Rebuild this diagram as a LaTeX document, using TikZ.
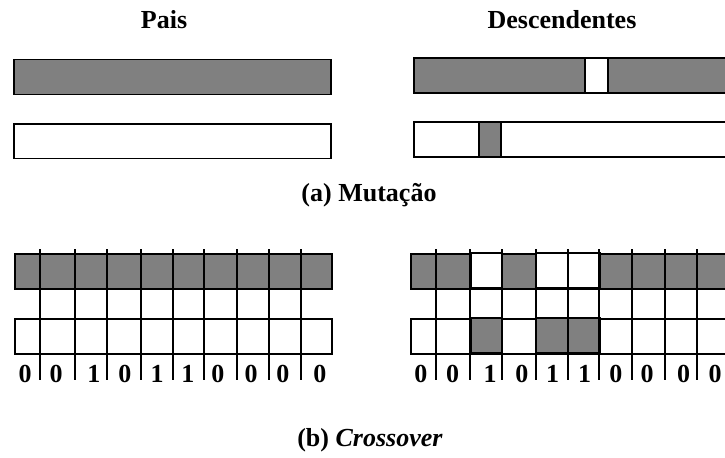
\documentclass[tikz,border=0pt]{standalone}
\usepackage{fontspec}
\setmainfont{Liberation Serif}
\begin{document}
\begin{tikzpicture}[x=0.5pt, y=-0.5pt, line width=0.9pt]

\tikzset{gene/.style = {draw, fill=gray}}
\tikzset{blank/.style = {draw, fill=white}}
\tikzset{title/.style = {font=\fontsize{13}{15}\selectfont\bfseries, anchor=base}}
\tikzset{bit/.style = {font=\fontsize{13}{15}\selectfont\bfseries, anchor=base, inner sep=0pt}}
\useasboundingbox (0,0) rectangle (725,457);
\clip (0,0) rectangle (725,457);
% headings
\node[title] (pais) at (164,28.5) {Pais};
\node[title] (desc) at (562,28) {Descendentes};
% (a) mutation
\draw[gene]  (14,59.5) rectangle (331,94.5);
\draw[blank] (14,124) rectangle (331,158.5);
\draw[gene]  (414.3,58) rectangle (731,92.7);
\draw[blank] (585.3,58) rectangle (608,92.7);
\draw[blank] (414.3,122.3) rectangle (731,157);
\draw[gene]  (478.7,122.3) rectangle (501.3,157);
\node[title] (mut) at (369,201) {(a) Mutação};
% (b) crossover, parents
\draw[gene]  (15.3,254) rectangle (332.3,289);
\draw[blank] (15.3,319) rectangle (332.3,354);
\foreach \x in {40,74.7,106.7,141,172.7,204,236.7,269.3,301.3}
  \draw (\x,249) -- (\x,380);
\foreach \x/\d [count=\i] in {25/0,56/0,94/1,125/0,157/1,188/1,218/0,251/0,283/0,320/0}
  \node[bit] (pbit\i) at (\x,382) {\d};
% (b) crossover, offspring
\draw[gene]  (411.3,254) rectangle (728.3,289);
\draw[blank] (411.3,319) rectangle (728.3,354);
\foreach \a/\b in {470.3/502,536/568,568/599.3} {
  \draw[blank, line width=1.2pt] (\a,253) rectangle (\b,288);
  \draw[gene, line width=1.2pt]  (\a,318) rectangle (\b,353);
}
\foreach \x in {436,470.3,502,536,568,599.3,632,665.3,697}
  \draw (\x,249) -- (\x,380);
\foreach \x/\d [count=\i] in {421/0,452.7/0,490/1,522/0,552.7/1,584.7/1,616/0,647/0,683.7/0,715/0}
  \node[bit] (obit\i) at (\x,382) {\d};
\node[title] (cross) at (370,446) {(b) \textit{Crossover}};
\end{tikzpicture}
\end{document}
